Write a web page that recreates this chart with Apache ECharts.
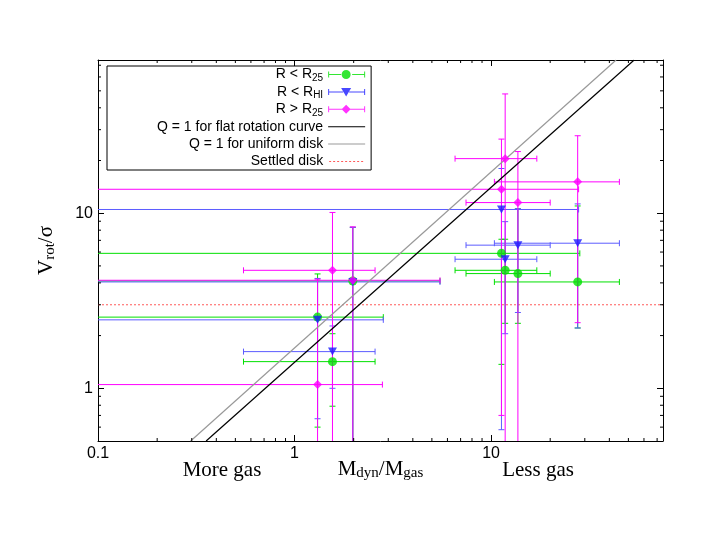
<!DOCTYPE html>
<html>
<head>
<meta charset="utf-8">
<script src="https://cdn.jsdelivr.net/npm/echarts@6/dist/echarts.min.js"></script>
<style>
html, body { margin: 0; padding: 0; background: #fff; }
#chart { width: 706px; height: 546px; }
</style>
</head>
<body>
<div id="chart"></div>
<script>
// axes
const xRange = [0.1, 75]
const yRange = [0.5, 75]
const xTickLabels = [0.1, 1, 10]
const yTickLabels = [1, 10]
const xMinorTicks = [0.2, 0.3, 0.4, 0.5, 0.6, 0.7, 0.8, 0.9, 2, 3, 4, 5, 6, 7, 8, 9, 20, 30, 40, 50, 60, 70]
const yMinorTicks = [0.6, 0.7, 0.8, 0.9, 2, 3, 4, 5, 6, 7, 8, 9, 20, 30, 40, 50, 60, 70]

// R < R25 (green)
const innerX = [1.31, 1.56, 1.98, 11.3, 11.8, 13.7, 27.6]
const innerY = [2.55, 1.42, 4.10, 5.9, 4.72, 4.52, 4.05]
const innerXlo = [0.05, 0.55, 0.05, 0.05, 6.56, 7.46, 10.4]
const innerXhi = [2.83, 2.57, 5.5, 28.3, 17.1, 20, 45]
const innerYlo = [0.6, 0.79, 0.3, 1.37, 2.35, 2.35, 2.21]
const innerYhi = [4.5, 2.05, 8.3, 7.1, 7.1, 10.6, 11.0]

// R < RHI (blue)
const hiX = [1.31, 1.56, 1.98, 11.3, 11.8, 13.7, 27.6]
const hiY = [2.46, 1.62, 4.05, 10.5, 5.46, 6.57, 6.74]
const hiXlo = [0.05, 0.55, 0.05, 0.05, 6.56, 7.46, 10.4]
const hiXhi = [2.83, 2.57, 5.5, 27.9, 17.1, 20, 45]
const hiYlo = [0.67, 1.0, 0.3, 0.58, 2.05, 2.71, 2.21]
const hiYhi = [4.24, 2.27, 8.3, 18, 8.95, 10.6, 11.3]

// R > R25 (magenta)
const outerX = [1.31, 1.56, 1.98, 11.3, 11.8, 13.7, 27.6]
const outerY = [1.05, 4.72, 4.14, 13.7, 20.5, 11.5, 15.1]
const outerXlo = [0.05, 0.55, 0.05, 0.05, 6.56, 7.46, 10.4]
const outerXhi = [2.8, 2.57, 5.5, 27.9, 17.1, 20, 45]
const outerYlo = [0.3, 0.3, 0.3, 0.70, 0.3, 0.3, 2.37]
const outerYhi = [4.2, 10.1, 8.36, 26.5, 48, 22.5, 27.7]

// Q = 1 lines and settled disk
const flatX = [0.355, 53.5]
const flatY = [0.5, 75]
const uniformX = [0.296, 43.3]
const uniformY = [0.5, 75]
const settledX = [0.1, 75]
const settledY = [3, 3]

const SANS = '"Liberation Sans", Arial, sans-serif'
const SERIF = '"Liberation Serif", "Times New Roman", serif'

const rows = (...cols) => cols[0].map((_, i) => cols.map(c => c[i]))

function errorBars (color) {
  return function (params, api) {
    const cap = 3
    const x = api.value(0)
    const y = api.value(1)
    const l = api.coord([api.value(2), y])
    const r = api.coord([api.value(3), y])
    const b = api.coord([x, api.value(4)])
    const t = api.coord([x, api.value(5)])
    const style = { stroke: color, lineWidth: 1 }
    const seg = (x1, y1, x2, y2) => ({ type: 'line', shape: { x1, y1, x2, y2 }, style })
    return {
      type: 'group',
      children: [
        seg(l[0], l[1], r[0], r[1]),
        seg(l[0], l[1] - cap, l[0], l[1] + cap),
        seg(r[0], r[1] - cap, r[0], r[1] + cap),
        seg(b[0], b[1], t[0], t[1]),
        seg(b[0] - cap, b[1], b[0] + cap, b[1]),
        seg(t[0] - cap, t[1], t[0] + cap, t[1])
      ]
    }
  }
}

function minorX (params, api) {
  const v = api.value(0)
  const b = api.coord([v, yRange[0]])
  const t = api.coord([v, yRange[1]])
  const style = { stroke: '#000', lineWidth: 1 }
  return {
    type: 'group',
    children: [
      { type: 'line', shape: { x1: b[0], y1: b[1], x2: b[0], y2: b[1] - 3 }, style },
      { type: 'line', shape: { x1: t[0], y1: t[1], x2: t[0], y2: t[1] + 3 }, style }
    ]
  }
}

function minorY (params, api) {
  const v = api.value(1)
  const l = api.coord([xRange[0], v])
  const r = api.coord([xRange[1], v])
  const style = { stroke: '#000', lineWidth: 1 }
  return {
    type: 'group',
    children: [
      { type: 'line', shape: { x1: l[0], y1: l[1], x2: l[0] + 3, y2: l[1] }, style },
      { type: 'line', shape: { x1: r[0], y1: r[1], x2: r[0] - 3, y2: r[1] }, style }
    ]
  }
}

const isMajor = (list, v) => list.some(t => Math.abs(t - v) / t < 1e-6)

function logAxis (range, labels, extra) {
  return Object.assign({
    type: 'log',
    logBase: 10,
    min: range[0],
    max: range[1],
    nameMoveOverlap: false,
    axisLine: { show: true, onZero: false, lineStyle: { color: '#000', width: 1 } },
    axisTick: { show: true, inside: true, length: 6, lineStyle: { color: '#000' } },
    minorTick: { show: false },
    splitLine: { show: false },
    axisLabel: {
      show: true,
      margin: 5,
      fontFamily: SANS,
      fontSize: 16,
      color: '#000',
      showMinLabel: true,
      showMaxLabel: true,
      formatter: v => (isMajor(labels, v) ? String(v) : '')
    }
  }, extra)
}

// legend icons (37 x 10 boxes)
const BOX = 'M0,0 L0,0 M37,10 L37,10 '
const ICON_BARS = BOX + 'M0,2 H1 V8 H0 Z M36,2 H37 V8 H36 Z '
const iconCircle = 'path://' + ICON_BARS + 'M1,4.5 H13 V5.5 H1 Z M24,4.5 H36 V5.5 H24 Z M13.5,5 A4.5,4.5 0 1,1 22.5,5 A4.5,4.5 0 1,1 13.5,5 Z'
const iconTriangle = 'path://' + ICON_BARS + 'M1,4.5 H15 V5.5 H1 Z M21,4.5 H36 V5.5 H21 Z M13,1 H23 L18,9.5 Z'
const iconDiamond = 'path://' + ICON_BARS + 'M1,4.5 H14 V5.5 H1 Z M22,4.5 H36 V5.5 H22 Z M18,0.5 L22.5,5 L18,9.5 L13.5,5 Z'
const iconLine = 'path://' + BOX + 'M0,4.5 H37 V5.5 H0 Z'
let dots = ''
for (let i = 1; i < 37; i += 4) dots += 'M' + i + ',4.5 H' + (i + 2) + ' V5.5 H' + i + ' Z '
const iconDotted = 'path://' + BOX + dots

const GREEN = '#00e000'
const BLUE = '#1a1aff'
const BLUE_BAR = '#5c5cff'
const MAGENTA = '#ff00ff'

const chart = echarts.init(document.getElementById('chart'), null, { renderer: 'canvas' })

const option = {
  animation: false,
  backgroundColor: '#fff',
  grid: { left: 98, top: 60, right: 43, bottom: 105, containLabel: false, outerBoundsMode: 'none' },
  xAxis: [
    logAxis(xRange, xTickLabels, {
      position: 'bottom',
      name: '{n|M}{s|dyn}{n|/M}{s|gas}',
      nameLocation: 'middle',
      nameGap: 16,
      nameTextStyle: {
        color: '#000',
        rich: {
          n: { fontFamily: SERIF, fontSize: 21, color: '#000', lineHeight: 24 },
          s: { fontFamily: SERIF, fontSize: 15, color: '#000', lineHeight: 17, padding: [12, 0, 0, 0], verticalAlign: 'bottom' }
        }
      }
    }),
    logAxis(xRange, [], { position: 'top', axisLabel: { show: false } })
  ],
  yAxis: [
    logAxis(yRange, yTickLabels, {
      position: 'left',
      name: '{n|V}{s|rot}{n|/σ}',
      nameLocation: 'middle',
      nameGap: 40,
      nameTextStyle: {
        color: '#000',
        rich: {
          n: { fontFamily: SERIF, fontSize: 21, color: '#000', lineHeight: 24 },
          s: { fontFamily: SERIF, fontSize: 15, color: '#000', lineHeight: 17, padding: [12, 0, 0, 0], verticalAlign: 'bottom' }
        }
      }
    }),
    logAxis(yRange, [], { position: 'right', axisLabel: { show: false } })
  ],
  legend: {
    orient: 'vertical',
    align: 'right',
    left: 107,
    top: 66,
    padding: [0, 6, 0, 50],
    itemGap: 0.4,
    itemWidth: 37,
    itemHeight: 10,
    selectedMode: false,
    backgroundColor: '#fff',
    borderColor: '#000',
    borderWidth: 1,
    borderRadius: 0,
    itemStyle: { borderWidth: 0 },
    textStyle: {
      fontFamily: SANS,
      fontSize: 14,
      color: '#000',
      lineHeight: 17,
      rich: {
        sub: { fontFamily: SANS, fontSize: 10, color: '#000', lineHeight: 11, padding: [6, 0, 0, 0], verticalAlign: 'bottom' }
      }
    },
    formatter: name => name.replace(/R(25|HI)$/, 'R{sub|$1}'),
    data: [
      { name: 'R < R25', icon: iconCircle },
      { name: 'R < RHI', icon: iconTriangle },
      { name: 'R > R25', icon: iconDiamond },
      { name: 'Q = 1 for flat rotation curve', icon: iconLine },
      { name: 'Q = 1 for uniform disk', icon: iconLine },
      { name: 'Settled disk', icon: iconDotted }
    ]
  },
  graphic: [
    { type: 'text', x: 222, y: 470, style: { text: 'More gas', fontFamily: SERIF, fontSize: 21, fill: '#000', align: 'center', verticalAlign: 'middle' } },
    { type: 'text', x: 538, y: 470, style: { text: 'Less gas', fontFamily: SERIF, fontSize: 21, fill: '#000', align: 'center', verticalAlign: 'middle' } }
  ],
  series: [
    { type: 'custom', name: 'xMinor', silent: true, clip: false, renderItem: minorX, data: xMinorTicks.map(v => [v, yRange[0]]), z: 5 },
    { type: 'custom', name: 'yMinor', silent: true, clip: false, renderItem: minorY, data: yMinorTicks.map(v => [xRange[0], v]), z: 5 },
    {
      type: 'line', name: 'Settled disk', data: rows(settledX, settledY), symbol: 'none', silent: true,
      color: '#ff5a5a', lineStyle: { color: '#ff5a5a', width: 1, type: [2, 2] }, z: 1
    },
    {
      type: 'custom', name: 'errInner', silent: true, clip: true, renderItem: errorBars(GREEN),
      encode: { x: [0, 2, 3], y: [1, 4, 5] }, z: 2,
      data: rows(innerX, innerY, innerXlo, innerXhi, innerYlo, innerYhi)
    },
    {
      type: 'custom', name: 'errHi', silent: true, clip: true, renderItem: errorBars(BLUE_BAR),
      encode: { x: [0, 2, 3], y: [1, 4, 5] }, z: 2,
      data: rows(hiX, hiY, hiXlo, hiXhi, hiYlo, hiYhi)
    },
    {
      type: 'custom', name: 'errOuter', silent: true, clip: true, renderItem: errorBars(MAGENTA),
      encode: { x: [0, 2, 3], y: [1, 4, 5] }, z: 2,
      data: rows(outerX, outerY, outerXlo, outerXhi, outerYlo, outerYhi)
    },
    {
      type: 'line', name: 'Q = 1 for flat rotation curve', data: rows(flatX, flatY), symbol: 'none', silent: true,
      color: '#000', lineStyle: { color: '#000', width: 1.2 }, z: 3
    },
    {
      type: 'line', name: 'Q = 1 for uniform disk', data: rows(uniformX, uniformY), symbol: 'none', silent: true,
      color: '#999', lineStyle: { color: '#999', width: 1.2 }, z: 3
    },
    {
      type: 'scatter', name: 'R < R25', data: rows(innerX, innerY), symbol: 'circle', symbolSize: 9,
      itemStyle: { color: GREEN, borderWidth: 0 }, z: 4
    },
    {
      type: 'scatter', name: 'R < RHI', data: rows(hiX, hiY), symbol: 'triangle', symbolRotate: 180, symbolSize: [9, 8],
      itemStyle: { color: BLUE, borderWidth: 0 }, z: 4
    },
    {
      type: 'scatter', name: 'R > R25', data: rows(outerX, outerY), symbol: 'diamond', symbolSize: [9, 9],
      itemStyle: { color: MAGENTA, borderWidth: 0 }, z: 4
    }
  ]
}

chart.setOption(option)
</script>
</body>
</html>
